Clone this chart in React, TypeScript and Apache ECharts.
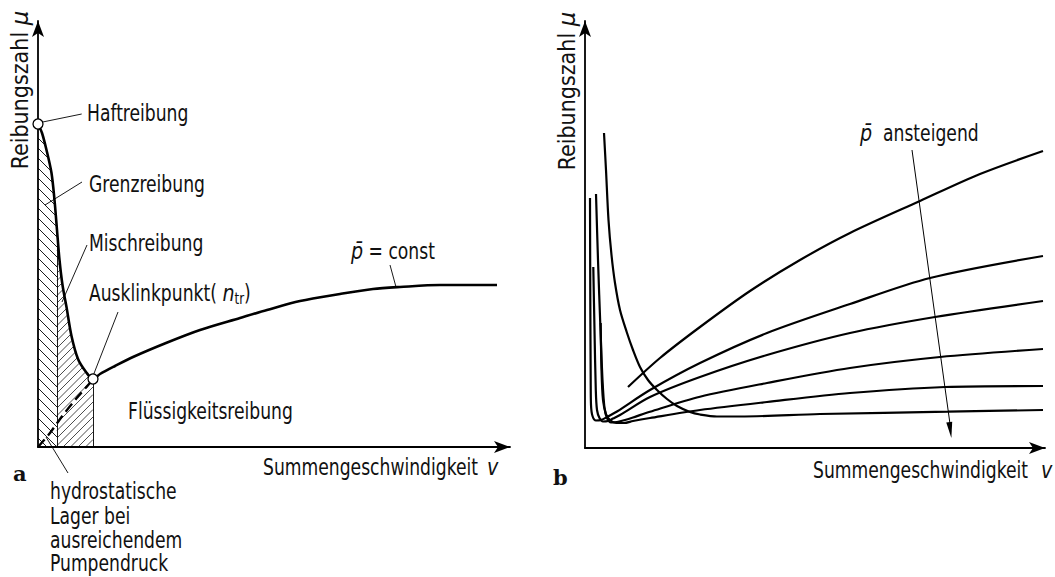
import React, { useEffect, useRef } from "react";
import * as echarts from "echarts";

// ---------- Panel a: Stribeck curve (p̄ = const) ----------
const curveA_x = [0, 4, 8.5, 13.5, 16.5, 19, 21.5, 24.5, 28.5, 33.5, 40, 48, 55, 62, 77, 95, 128, 162, 202, 229, 262, 302, 335, 362, 402, 459];
const curveA_y = [323, 314, 297, 274, 247, 217, 187, 162, 140, 111, 88, 75, 68, 73, 81, 90, 104, 117, 129, 137, 146, 153, 158, 160, 162, 162];
const hydro_x = [0, 12, 23.7, 38.7, 52, 55];
const hydro_y = [0, 14, 30.3, 49, 64, 68];
const haftPoint = [0, 323];
const ausklinkPoint = [55, 68];
const mischStartX = 19; // boundary Grenz-/Mischreibung
const fluidStartX = 55; // Ausklinkpunkt

// ---------- Panel b: family of curves, p̄ rising ----------
const b1_x = [43, 75, 115, 165, 215, 265, 335, 395, 458];
const b1_y = [61, 90, 121, 157, 188, 215, 247, 274, 297];
const b2_x = [5, 5.3, 5.7, 6, 7.5, 11, 16, 23, 32, 65, 115, 182, 265, 345, 458];
const b2_y = [250, 148, 68, 43, 32, 27.5, 28, 31.5, 36.5, 58, 85, 115, 144, 170, 192];
const b3_x = [8.3, 9.5, 10.8, 12, 14.5, 18, 23, 28, 35, 65, 115, 182, 265, 350, 458];
const b3_y = [181, 118, 58, 38, 30, 26.5, 27, 29.5, 33, 51, 71, 93, 115, 131, 147];
const b4_x = [11, 13, 15.5, 17.5, 19.5, 22, 26, 32, 40, 48, 65, 115, 182, 265, 355, 458];
const b4_y = [254, 188, 118, 68, 40, 30, 25.5, 26, 28, 30.5, 36.3, 51.3, 65, 80, 91, 99];
const b5_x = [15.7, 16.5, 18, 21, 25, 31, 39, 48, 65, 115, 182, 265, 360, 458];
const b5_y = [125, 78, 48, 34, 28, 25, 25, 27, 30, 38, 46, 55, 61, 62];
const b6_x = [19, 21, 23.5, 26.5, 30, 35, 41.7, 48, 55, 63, 72, 82, 92, 105, 115, 132, 155, 235, 363, 458];
const b6_y = [315, 278, 228, 193, 165, 138, 116, 98, 81, 68, 58, 49, 42, 36, 33.5, 31.5, 31.5, 34, 36.3, 38];
const arrowB_x = [327, 366];
const arrowB_y = [298, 10];

// leader lines panel a (from mark to label)
const leadersA = [
  [[4.7, 325], [43.7, 333]],
  [[7, 242], [44, 265]],
  [[24, 145], [49, 202]],
  [[55, 71], [80, 135]],
  [[358, 160], [352, 182]],
  [[8, 10], [30, -26]],
];

const pairs = (xs: number[], ys: number[]) => xs.map((x, i) => [x, ys[i]]);

const FONT = "'Liberation Sans Narrow', 'DejaVu Sans Condensed', 'DejaVu Sans', sans-serif";
const FS = 23;

function hatch(poly: number[][], spacing: number, dir: number) {
  const cs = poly.map((p) => p[1] - dir * p[0]);
  const cmin = Math.min(...cs);
  const cmax = Math.max(...cs);
  const segs: number[][] = [];
  for (let c = Math.ceil(cmin / spacing) * spacing + 0.01; c <= cmax; c += spacing) {
    const xs: number[] = [];
    for (let i = 0; i < poly.length; i++) {
      const a = poly[i];
      const b = poly[(i + 1) % poly.length];
      const fa = a[1] - dir * a[0] - c;
      const fb = b[1] - dir * b[0] - c;
      if (fa < 0 !== fb < 0) {
        const t = fa / (fa - fb);
        xs.push(a[0] + t * (b[0] - a[0]));
      }
    }
    xs.sort((p, q) => p - q);
    for (let k = 0; k + 1 < xs.length; k += 2) {
      segs.push([xs[k], dir * xs[k] + c, xs[k + 1], dir * xs[k + 1] + c]);
    }
  }
  return segs;
}

function regionPoly(x0: number, x1: number) {
  const pts: number[][] = [[x0, 0]];
  curveA_x.forEach((x, i) => {
    if (x >= x0 - 1e-6 && x <= x1 + 1e-6) pts.push([x, curveA_y[i]]);
  });
  pts.push([x1, 0]);
  return pts;
}

export default function App() {
  const ref = useRef<HTMLDivElement>(null);
  useEffect(() => {
    if (!ref.current) return;
    // measure font to condense text like the reference (narrow engineering lettering)
    let sx = 0.84;
    try {
      const ctx = document.createElement("canvas").getContext("2d");
      if (ctx) {
        ctx.font = `${FS}px ${FONT}`;
        const w = ctx.measureText("Summengeschwindigkeit").width;
        if (w > 0) sx = Math.min(1, 215 / w);
      }
    } catch (e) {}
    const chart = echarts.init(ref.current, null, { renderer: "svg" });
    const axisCommon = {
      type: "value" as const,
      min: 0,
      axisLabel: { show: false },
      axisTick: { show: false },
      splitLine: { show: false },
      axisLine: {
        show: true,
        onZero: false,
        symbol: ["none", "arrow"],
        symbolSize: [9, 16],
        lineStyle: { color: "#000", width: 1.8 },
      },
    };
    const lineCommon = {
      type: "line" as const,
      showSymbol: false,
      symbol: "none",
      smooth: 0.3,
      lineStyle: { color: "#000", width: 2.2 },
      z: 3,
    };
    const text = (t: string, x: number, y: number, extra: any = {}) => ({
      type: "text",
      x,
      y,
      scaleX: extra.noScale ? 1 : sx,
      ...(extra.rotation ? { rotation: extra.rotation } : {}),
      style: {
        text: t,
        font: `${FS}px ${FONT}`,
        fill: "#111",
        textAlign: extra.align || "left",
        textVerticalAlign: "middle",
        rich: {
          it: { fontStyle: "italic", fontSize: FS, fontFamily: "'DejaVu Sans', sans-serif", fill: "#111" },
          sub: { fontSize: 16, fontFamily: FONT, padding: [10, 0, 0, 0], fill: "#111" },
        },
        ...(extra.style || {}),
      },
    });
    const option: any = {
      animation: false,
      backgroundColor: "#fff",
      grid: [
        { left: 38, top: 21, width: 472, height: 426 },
        { left: 585, top: 21, width: 460, height: 427 },
      ],
      xAxis: [
        { ...axisCommon, gridIndex: 0, max: 472 },
        { ...axisCommon, gridIndex: 1, max: 460 },
      ],
      yAxis: [
        { ...axisCommon, gridIndex: 0, max: 426 },
        { ...axisCommon, gridIndex: 1, max: 427 },
      ],
      series: [
        {
          type: "custom",
          xAxisIndex: 0,
          yAxisIndex: 0,
          clip: false,
          z: 1,
          data: [[0], [1]],
          renderItem: (params: any, api: any) => {
            const idx = api.value(0);
            const poly = idx === 0 ? regionPoly(0, mischStartX) : regionPoly(mischStartX, fluidStartX);
            const px = poly.map((p) => api.coord(p));
            const segs = idx === 0 ? hatch(px, 10, 1) : hatch(px, 7.5, -1);
            return {
              type: "group",
              children: segs.map((s) => ({
                type: "line",
                shape: { x1: s[0], y1: s[1], x2: s[2], y2: s[3] },
                style: { stroke: "#000", lineWidth: idx === 0 ? 0.9 : 0.7 },
              })),
            };
          },
        },
        { ...lineCommon, xAxisIndex: 0, yAxisIndex: 0, data: pairs(curveA_x, curveA_y), lineStyle: { color: "#000", width: 2.6 } },
        {
          ...lineCommon,
          xAxisIndex: 0,
          yAxisIndex: 0,
          smooth: 0.2,
          data: pairs(hydro_x, hydro_y),
          lineStyle: { color: "#000", width: 2.4, type: [10, 5] },
        },
        {
          type: "lines",
          coordinateSystem: "cartesian2d",
          xAxisIndex: 0,
          yAxisIndex: 0,
          clip: false,
          z: 2,
          lineStyle: { color: "#000", width: 0.9, opacity: 1 },
          data: [
            ...leadersA.map((c) => ({ coords: c })),
            { coords: [[mischStartX, 0], [mischStartX, curveA_y[curveA_x.indexOf(mischStartX)]]] },
            { coords: [[fluidStartX, 0], [fluidStartX, ausklinkPoint[1]]] },
          ],
        },
        {
          type: "scatter",
          xAxisIndex: 0,
          yAxisIndex: 0,
          z: 5,
          symbol: "circle",
          symbolSize: 10,
          itemStyle: { color: "#fff", borderColor: "#000", borderWidth: 1.3, opacity: 1 },
          data: [haftPoint, ausklinkPoint],
        },
        ...[
          [b1_x, b1_y],
          [b2_x, b2_y],
          [b3_x, b3_y],
          [b4_x, b4_y],
          [b5_x, b5_y],
          [b6_x, b6_y],
        ].map(([xs, ys]) => ({ ...lineCommon, xAxisIndex: 1, yAxisIndex: 1, data: pairs(xs, ys) })),
        {
          type: "lines",
          coordinateSystem: "cartesian2d",
          xAxisIndex: 1,
          yAxisIndex: 1,
          z: 2,
          lineStyle: { color: "#000", width: 1, opacity: 1 },
          data: [{ coords: [[arrowB_x[0], arrowB_y[0]], [arrowB_x[1] - 0.7, arrowB_y[1] + 12]] }],
        },
        {
          type: "scatter",
          xAxisIndex: 1,
          yAxisIndex: 1,
          z: 4,
          symbol: "path://M0,0 L6,0 L3,16 Z",
          symbolSize: [6, 16],
          symbolRotate: 7.7,
          itemStyle: { color: "#000", opacity: 1 },
          data: [[arrowB_x[1] - 0.7, arrowB_y[1] + 8]],
        },
      ],
      graphic: [
        text("Reibungszahl {it|μ}", 20, 90, { rotation: Math.PI / 2, align: "center", noScale: true }),
        text("Haftreibung", 87, 113),
        text("Grenzreibung", 89, 184),
        text("Mischreibung", 89, 243),
        text("Ausklinkpunkt( {it|n}{sub|tr})", 89, 293),
        text("{it|p\u0304} = const", 351, 251),
        text("Flüssigkeitsreibung", 128, 411),
        text("Summengeschwindigkeit", 263, 467),
        text("{it|v}", 487, 467),
        text("hydrostatische", 50, 491),
        text("Lager bei", 50, 516),
        text("ausreichendem", 50, 540),
        text("Pumpendruck", 50, 563),
        text("a", 13, 473, { noScale: true, style: { font: "bold 21px 'DejaVu Serif', 'Liberation Serif', serif" } }),
        text("Reibungszahl {it|μ}", 567, 91, { rotation: Math.PI / 2, align: "center", noScale: true }),
        text("{it|p\u0304}  ansteigend", 860, 133),
        text("Summengeschwindigkeit", 813, 470),
        text("{it|v}", 1041, 470),
        text("b", 553, 477, { noScale: true, style: { font: "bold 21px 'DejaVu Serif', 'Liberation Serif', serif" } }),
      ],
    };
    chart.setOption(option);
    return () => chart.dispose();
  }, []);
  return <div ref={ref} style={{ position: "fixed", left: 0, top: 0, width: 1055, height: 577 }} />;
}
